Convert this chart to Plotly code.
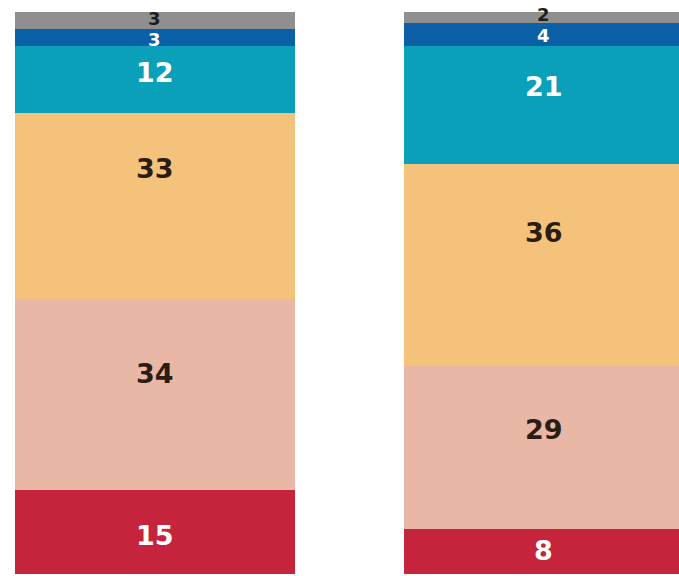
import plotly.graph_objects as go

# Two stacked 100% bars, segments listed bottom to top
groups = ["A", "B"]
segments = ["S1", "S2", "S3", "S4", "S5", "S6"]
values_a = [15, 34, 33, 12, 3, 3]
values_b = [8, 29, 36, 21, 4, 2]

colors = ["#c6233c", "#e8b7a6", "#f5c27b", "#0aa0b9", "#0a5fa6", "#8f8f8f"]
text_colors = ["#ffffff", "#2b1d14", "#2b1d14", "#ffffff", "#ffffff", "#1e1e1e"]
# how far down from a segment's top edge its label sits (share of segment height)
label_drop = {
    "A": [0.54, 0.39, 0.30, 0.40, 0.64, 0.41],
    "B": [0.48, 0.39, 0.34, 0.35, 0.55, 0.27],
}

series = {"A": values_a, "B": values_b}

fig = go.Figure()
for i, name in enumerate(segments):
    fig.add_trace(go.Bar(
        x=groups,
        y=[series[g][i] for g in groups],
        name=name,
        marker=dict(color=colors[i], line=dict(width=0)),
        showlegend=False,
    ))

annotations = []
for g in groups:
    top = 0
    for i, v in enumerate(series[g]):
        top += v
        annotations.append(dict(
            x=g, y=top - v * label_drop[g][i], xref="x", yref="y",
            text=str(v), showarrow=False,
            font=dict(family="DejaVu Sans", size=18 if v < 5 else 27,
                      color=text_colors[i], weight="bold"),
        ))

fig.update_layout(
    barmode="stack",
    bargap=0.281,
    width=679, height=576,
    margin=dict(l=0, r=0, t=0, b=0),
    paper_bgcolor="white", plot_bgcolor="white",
    xaxis=dict(visible=False, range=[-0.397, 1.347]),
    yaxis=dict(visible=False, range=[-0.35, 102.12]),
    annotations=annotations,
)

fig.write_html("out.html")
